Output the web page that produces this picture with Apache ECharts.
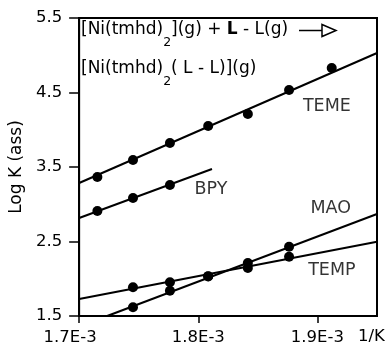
<!DOCTYPE html>
<html>
<head>
<meta charset="utf-8">
<script src="https://cdn.jsdelivr.net/npm/echarts@6/dist/echarts.min.js"></script>
<style>
html,body{margin:0;padding:0;background:#fff;}
#c{width:385px;height:350px;}
</style>
</head>
<body>
<div id="c"></div>
<script>
// 1/T values in units of 1E-3 K^-1
const invT = [1.7153, 1.7452, 1.7762, 1.8083, 1.8416, 1.8762, 1.9120];
const temeY = [3.366, 3.594, 3.822, 4.050, 4.211, 4.533, 4.829];
const bpyX = [1.7153, 1.7452, 1.7762];
const bpyY = [2.909, 3.084, 3.258];
const maoX = [1.7452, 1.7762, 1.8083, 1.8416, 1.8762];
const maoY = [1.617, 1.840, 2.030, 2.211, 2.430];
const tempX = [1.7452, 1.7762, 1.8083, 1.8416, 1.8762];
const tempY = [1.885, 1.952, 2.035, 2.144, 2.296];
// fitted lines (end points)
const temeLine = [[1.70, 3.285], [1.95, 5.030]];
const bpyLine = [[1.70, 2.815], [1.8115, 3.473]];
const maoLine = [[1.7235, 1.5], [1.95, 2.869]];
const tempLine = [[1.70, 1.728], [1.95, 2.497]];
// series labels
const labelNames = ['TEME', 'BPY', 'MAO', 'TEMP'];
const labelX = [1.9079, 1.8106, 1.9112, 1.9121];
const labelY = [4.319, 3.198, 2.950, 2.111];
// axis ticks
const xTicks = [1.7, 1.8, 1.9];
const xTickLabels = ['1.7E-3', '1.8E-3', '1.9E-3'];
const yTicks = [1.5, 2.5, 3.5, 4.5, 5.5];

const FONT = 'DejaVu Sans';
const zip = (xs, ys) => xs.map((x, i) => [x, ys[i]]);

const chart = echarts.init(document.getElementById('c'), null, {renderer: 'canvas'});

const lineSeries = (data) => ({
  type: 'line', data: data, symbol: 'none', silent: true, animation: false,
  lineStyle: {color: '#000', width: 2}
});
const dotSeries = (data) => ({
  type: 'scatter', data: data, symbol: 'circle', symbolSize: 10, silent: true, animation: false,
  itemStyle: {color: '#000', opacity: 1}
});

chart.setOption({
  animation: false,
  backgroundColor: '#fff',
  grid: {left: 79, right: 8, top: 18, bottom: 34, show: true, borderColor: '#000', borderWidth: 2, containLabel: false},
  xAxis: {
    type: 'value', min: 1.7, max: 1.95, interval: 0.1,
    axisLine: {show: true, lineStyle: {color: '#000', width: 2}},
    axisTick: {show: true, inside: false, length: 7, lineStyle: {color: '#000', width: 1.5}, customValues: xTicks},
    splitLine: {show: false},
    axisLabel: {
      customValues: xTicks,
      margin: 13, color: '#000', fontFamily: FONT, fontSize: 16.5,
      formatter: function (v) {
        let i = xTicks.findIndex(t => Math.abs(t - v) < 1e-6);
        if (i < 0) return '';
        if (i === 0) return '{s|' + xTickLabels[i] + '}';
        return xTickLabels[i];
      },
      rich: {s: {fontFamily: FONT, fontSize: 16.5, color: '#000', padding: [0, 18, 0, 0]}}
    }
  },
  yAxis: {
    type: 'value', min: 1.5, max: 5.5, interval: 1,
    name: 'Log K (ass)', nameLocation: 'middle', nameGap: 49,
    nameTextStyle: {fontFamily: FONT, fontSize: 17, color: '#000'},
    axisLine: {show: true, lineStyle: {color: '#000', width: 2}},
    axisTick: {show: true, inside: false, length: 10, lineStyle: {color: '#000', width: 1.5}},
    splitLine: {show: false},
    axisLabel: {margin: 17, color: '#000', fontFamily: FONT, fontSize: 16.5,
      formatter: v => yTicks.some(t => Math.abs(t - v) < 1e-6) ? v.toFixed(1) : ''}
  },
  series: [
    lineSeries(temeLine), lineSeries(bpyLine), lineSeries(maoLine), lineSeries(tempLine),
    dotSeries(zip(invT, temeY)), dotSeries(zip(bpyX, bpyY)), dotSeries(zip(maoX, maoY)), dotSeries(zip(tempX, tempY)),
    {
      type: 'scatter', silent: true, animation: false, symbol: 'circle', symbolSize: 1,
      itemStyle: {color: 'rgba(0,0,0,0)'},
      data: labelNames.map((n, i) => ({value: [labelX[i], labelY[i]], name: n})),
      label: {show: true, position: 'inside', formatter: p => p.name,
        fontFamily: FONT, fontSize: 17.5, color: '#000'}
    }
  ],
  graphic: [
    {
      type: 'text', left: 81, top: 21, silent: true,
      style: {
        text: '{a|[Ni(tmhd)}{s|2}{a|](g) + }{b|L}{a| - L(g)}',
        rich: {
          a: {fontFamily: FONT, fontSize: 17, color: '#000', lineHeight: 20, verticalAlign: 'top'},
          b: {fontFamily: FONT, fontSize: 17, fontWeight: 'bold', color: '#000', lineHeight: 20, verticalAlign: 'top'},
          s: {fontFamily: FONT, fontSize: 12.5, color: '#000', lineHeight: 14, verticalAlign: 'top', padding: [15, 0, 0, 0]}
        }
      }
    },
    {
      type: 'text', left: 81, top: 60, silent: true,
      style: {
        text: '{a|[Ni(tmhd)}{s|2}{a|( L - L)](g)}',
        rich: {
          a: {fontFamily: FONT, fontSize: 17, color: '#000', lineHeight: 20, verticalAlign: 'top'},
          s: {fontFamily: FONT, fontSize: 12.5, color: '#000', lineHeight: 14, verticalAlign: 'top', padding: [15, 0, 0, 0]}
        }
      }
    },
    {
      type: 'line', silent: true,
      shape: {x1: 299, y1: 30.5, x2: 323, y2: 30.5},
      style: {stroke: '#000', lineWidth: 1.5}
    },
    {
      type: 'polygon', silent: true,
      shape: {points: [[322, 24.5], [336, 30.5], [322, 36.5]]},
      style: {stroke: '#000', fill: '#fff', lineWidth: 1.5}
    },
    {
      type: 'text', left: 358, top: 328, silent: true,
      style: {text: '1/K', fontFamily: FONT, fontSize: 16.5, fill: '#000'}
    }
  ]
});
</script>
</body>
</html>
